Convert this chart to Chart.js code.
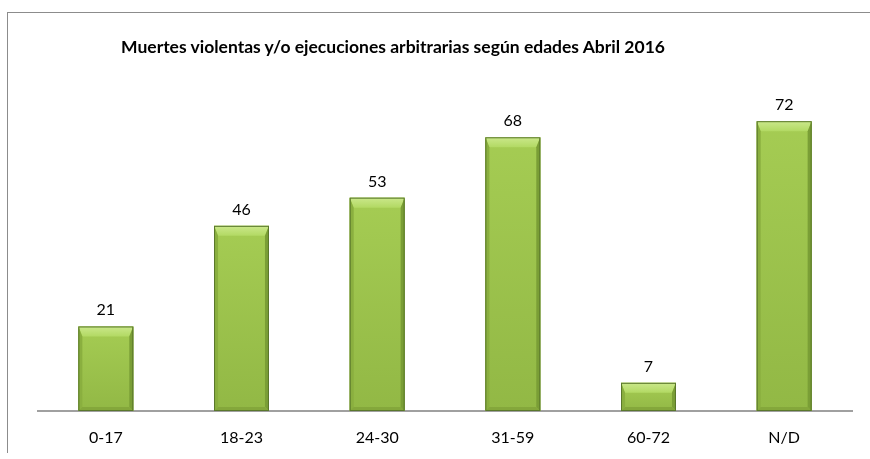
<!DOCTYPE html>
<html lang="es">
<head>
    <meta charset="UTF-8">
    <title>Muertes violentas según edades</title>
    <script src="https://cdn.jsdelivr.net/npm/chart.js"></script>
    <style>
        html, body {
            margin: 0;
            padding: 0;
            background: #fff;
        }
        .wrap {
            position: relative;
            width: 870px;
            height: 459px;
            overflow: hidden;
        }
        .frame {
            position: absolute;
            left: 7px;
            top: 12px;
            width: 900px;
            height: 440px;
            border-left: 1px solid #8c8c8c;
            border-top: 1px solid #8c8c8c;
        }
        .title {
            position: absolute;
            left: 0;
            width: 786px;
            top: 37px;
            line-height: 20px;
            text-align: center;
            font-family: Lato, "Open Sans", sans-serif;
            font-weight: bold;
            font-size: 17.5px;
            color: #000;
        }
        canvas {
            position: absolute;
            left: 0;
            top: 0;
        }
    </style>
</head>
<body>
<div class="wrap">
    <div class="frame"></div>
    <canvas id="chart" width="870" height="459"></canvas>
    <div class="title">Muertes violentas y/o ejecuciones arbitrarias según edades Abril 2016</div>
</div>
<script>
    // data
    const categories = ['0-17', '18-23', '24-30', '31-59', '60-72', 'N/D'];
    const muertes = [21, 46, 53, 68, 7, 72];

    const FONT = 'Lato, "Open Sans", sans-serif';

    // bevelled bars + value labels
    const bevelBars = {
        id: 'bevelBars',
        afterDatasetsDraw(chart) {
            const ctx = chart.ctx;
            const meta = chart.getDatasetMeta(0);
            meta.data.forEach((bar, i) => {
                const l = bar.x - bar.width / 2;
                const r = bar.x + bar.width / 2;
                const t = bar.y;
                const btm = bar.base;
                const h = btm - t;
                const bt = Math.min(10, h / 2.5);
                const bs = Math.min(4, h / 4);

                ctx.save();
                // body
                const g = ctx.createLinearGradient(0, t, 0, btm);
                g.addColorStop(0, '#a5cc53');
                g.addColorStop(1, '#92b845');
                ctx.fillStyle = g;
                ctx.fillRect(l, t, r - l, h);

                // top face
                const gt = ctx.createLinearGradient(0, t, 0, t + bt);
                gt.addColorStop(0, '#cbe88b');
                gt.addColorStop(1, '#b2d963');
                ctx.fillStyle = gt;
                ctx.beginPath();
                ctx.moveTo(l, t); ctx.lineTo(r, t);
                ctx.lineTo(r - bs, t + bt); ctx.lineTo(l + bs, t + bt);
                ctx.closePath(); ctx.fill();
                // left face
                ctx.fillStyle = '#8aaf3f';
                ctx.beginPath();
                ctx.moveTo(l, t); ctx.lineTo(l + bs, t + bt);
                ctx.lineTo(l + bs, btm - bs); ctx.lineTo(l, btm);
                ctx.closePath(); ctx.fill();
                // right face
                ctx.fillStyle = '#7a9e36';
                ctx.beginPath();
                ctx.moveTo(r, t); ctx.lineTo(r - bs, t + bt);
                ctx.lineTo(r - bs, btm - bs); ctx.lineTo(r, btm);
                ctx.closePath(); ctx.fill();
                // bottom face
                ctx.fillStyle = '#84a73b';
                ctx.beginPath();
                ctx.moveTo(l, btm); ctx.lineTo(r, btm);
                ctx.lineTo(r - bs, btm - bs); ctx.lineTo(l + bs, btm - bs);
                ctx.closePath(); ctx.fill();

                ctx.strokeStyle = '#5a772c';
                ctx.lineWidth = 1;
                ctx.strokeRect(l + 0.5, t + 0.5, r - l - 1, h - 1);

                // value label
                ctx.fillStyle = '#000';
                ctx.font = '16px ' + FONT;
                ctx.textAlign = 'center';
                ctx.textBaseline = 'alphabetic';
                ctx.fillText(String(muertes[i]), bar.x, t - 11);
                ctx.restore();
            });
        }
    };

    new Chart(document.getElementById('chart'), {
        type: 'bar',
        data: {
            labels: categories,
            datasets: [{
                data: muertes,
                backgroundColor: '#9dc34f',
                barPercentage: 0.405,
                categoryPercentage: 1
            }]
        },
        options: {
            responsive: false,
            animation: false,
            layout: {
                padding: { left: 38, right: 18, top: 89, bottom: 0 }
            },
            plugins: {
                legend: { display: false },
                title: { display: false },
                tooltip: { enabled: false }
            },
            scales: {
                x: {
                    grid: { display: false, drawTicks: false },
                    border: { color: '#a0a0a0', width: 2 },
                    ticks: {
                        color: '#000',
                        font: { family: FONT, size: 16 },
                        padding: 17
                    },
                    afterFit(axis) { axis.height = 48; }
                },
                y: {
                    display: false,
                    min: 0,
                    max: 80
                }
            }
        },
        plugins: [bevelBars]
    });
</script>
</body>
</html>
